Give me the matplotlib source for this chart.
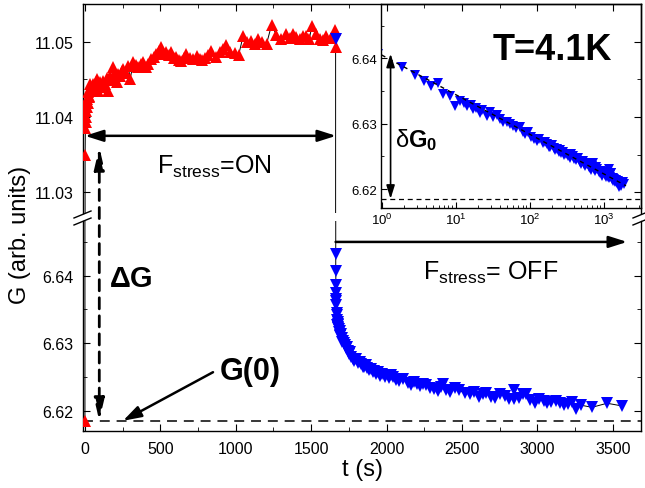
import numpy as np
import matplotlib
matplotlib.use("Agg")
import matplotlib.pyplot as plt
from matplotlib.ticker import MultipleLocator, FormatStrFormatter, LogLocator, NullFormatter
from matplotlib.lines import Line2D

plt.rcParams['font.family'] = ['Liberation Sans', 'DejaVu Sans']
plt.rcParams['mathtext.fontset'] = 'custom'
plt.rcParams['mathtext.rm'] = 'Liberation Sans'
plt.rcParams['mathtext.it'] = 'Liberation Sans:italic'
plt.rcParams['mathtext.bf'] = 'Liberation Sans:bold'
plt.rcParams['axes.linewidth'] = 1.0

# stress ON: G(t), first point is G(0) before the stress
t_on = [0, 1, 3, 5, 7, 9, 11, 13, 15, 18, 22, 25, 28, 33, 38, 44, 50, 55, 60, 66, 72, 77,
        83, 88, 99, 110, 121, 132, 143, 154, 165, 176, 187, 199, 210, 221, 232, 243, 254,
        270, 287, 300, 320, 336, 353, 370, 386, 403, 420, 441, 458, 474, 490, 507, 523,
        540, 556, 573, 590, 606, 623, 639, 656, 672, 695, 717, 740, 761, 778, 794, 817,
        839, 866, 894, 916, 938, 965, 993, 1020, 1049, 1076, 1104, 1126, 1148, 1175, 1204,
        1237, 1270, 1303, 1336, 1358, 1380, 1402, 1424, 1446, 1468, 1487, 1505, 1530, 1556,
        1578, 1600, 1630, 1655, 1666]
g_on = [6.6185, 11.0349, 11.0386, 11.0393, 11.0400, 11.0408, 11.0413, 11.0420, 11.0424,
        11.0418, 11.0433, 11.0426, 11.0428, 11.0444, 11.0436, 11.0437, 11.0441, 11.0444,
        11.0438, 11.0441, 11.0447, 11.0450, 11.0442, 11.0435, 11.0446, 11.0440, 11.0448,
        11.0444, 11.0452, 11.0435, 11.0455, 11.0449, 11.0466, 11.0458, 11.0446, 11.0457,
        11.0455, 11.0461, 11.0464, 11.0459, 11.0468, 11.0450, 11.0473, 11.0469, 11.0466,
        11.0471, 11.0473, 11.0466, 11.0470, 11.0477, 11.0480, 11.0484, 11.0488, 11.0493,
        11.0484, 11.0486, 11.0482, 11.0487, 11.0478, 11.0480, 11.0476, 11.0475, 11.0478,
        11.0484, 11.0479, 11.0477, 11.0481, 11.0477, 11.0476, 11.0478, 11.0483, 11.0488,
        11.0480, 11.0486, 11.0490, 11.0495, 11.0487, 11.0485, 11.0483, 11.0508, 11.0500,
        11.0501, 11.0497, 11.0504, 11.0500, 11.0497, 11.0522, 11.0509, 11.0504, 11.0510,
        11.0505, 11.0510, 11.0506, 11.0504, 11.0508, 11.0507, 11.0503, 11.0521, 11.0510,
        11.0504, 11.0502, 11.0508, 11.0505, 11.0515, 11.0493]

# stress OFF: time after switching off, and G
t_switch = 1662
t_off = [0, 0.4, 0.9, 1.9, 2.8, 3.7, 4.7, 5.8, 6.8, 8.4, 9.8, 11.4, 13, 14.1, 16, 17.3, 19,
         21.3, 23, 26.2, 29, 32.2, 36, 39.8, 44, 49, 54, 60, 66, 73, 80, 86, 95, 105, 115,
         124, 135, 150, 160, 170, 180, 190, 200, 210, 222, 235, 246, 257, 268, 280, 295,
         310, 330, 351, 365, 380, 400, 420, 450, 478, 500, 520, 540, 560, 580, 600, 625,
         653, 680, 700, 710, 735, 760, 790, 820, 855, 891, 920, 950, 975, 1000, 1030, 1060,
         1090, 1120, 1150, 1180, 1185, 1217, 1240, 1260, 1290, 1320, 1350, 1380, 1405, 1430,
         1460, 1490, 1515, 1540, 1565, 1593, 1630, 1700, 1800, 1900]
g_off = [11.0504, 6.6432, 6.6407, 6.6386, 6.6374, 6.6366, 6.6357, 6.6362, 6.6345, 6.6342,
         6.6327, 6.6335, 6.6331, 6.6327, 6.6328, 6.6322, 6.6324, 6.6316, 6.6321, 6.6312,
         6.6318, 6.6310, 6.6313, 6.6307, 6.6302, 6.6303, 6.6300, 6.6297, 6.6293, 6.6295,
         6.6288, 6.6284, 6.6287, 6.6280, 6.6277, 6.6274, 6.6276, 6.6270, 6.6272, 6.6269,
         6.6264, 6.6265, 6.6268, 6.6263, 6.6260, 6.6262, 6.6257, 6.6259, 6.6255, 6.6257,
         6.6252, 6.6254, 6.6250, 6.6248, 6.6253, 6.6250, 6.6246, 6.6244, 6.6247, 6.6241,
         6.6238, 6.6243, 6.6239, 6.6236, 6.6240, 6.6238, 6.6234, 6.6232, 6.6229, 6.6235,
         6.6240, 6.6231, 6.6228, 6.6233, 6.6230, 6.6226, 6.6225, 6.6228, 6.6220, 6.6224,
         6.6226, 6.6221, 6.6219, 6.6225, 6.6222, 6.6218, 6.6217, 6.6230, 6.6219, 6.6225,
         6.6224, 6.6216, 6.6212, 6.6217, 6.6215, 6.6211, 6.6213, 6.6214, 6.6212, 6.6209,
         6.6210, 6.6213, 6.6203, 6.6208, 6.6205, 6.6211, 6.6207]

# logarithmic fit shown in the inset
fit_t = [1, 2000]
fit_g = [6.6405, 6.6205]
g_zero = 6.6185

W, H = 645, 489
def fx(px):
    return px / W
def fy(py):
    return 1 - py / H

fig = plt.figure(figsize=(6.45, 4.89), dpi=100)
ax_up = fig.add_axes([fx(83), fy(214), fx(641) - fx(83), fy(5) - fy(214)])
ax_lo = fig.add_axes([fx(83), fy(432), fx(641) - fx(83), fy(222) - fy(432)], sharex=ax_up)

t_all = np.concatenate([t_on, np.array(t_off) + t_switch])
g_all = np.concatenate([g_on, g_off])
for ax in (ax_up, ax_lo):
    ax.plot(t_all, g_all, color='k', lw=0.7, zorder=2)
    ax.plot(t_on, g_on, ls='none', marker='^', color='#ff0000', ms=8, mew=0, zorder=3)
    ax.plot(np.array(t_off) + t_switch, g_off, ls='none', marker='v', color='#0000ff',
            ms=8, mew=0, zorder=4)
    ax.xaxis.set_major_locator(MultipleLocator(500))
    ax.xaxis.set_minor_locator(MultipleLocator(250))
    ax.yaxis.set_major_locator(MultipleLocator(0.01))
    ax.yaxis.set_minor_locator(MultipleLocator(0.005))
    ax.yaxis.set_major_formatter(FormatStrFormatter('%.2f'))
    ax.tick_params(which='both', direction='in', right=True, labelsize=11.5, pad=7)
    ax.tick_params(which='major', length=5)
    ax.tick_params(which='minor', length=3)

ax_up.set_xlim(-13, 3687)
ax_up.set_ylim(11.02725, 11.05501)
ax_lo.set_ylim(6.61699, 6.64810)
ax_up.spines['bottom'].set_visible(False)
ax_lo.spines['top'].set_visible(False)
ax_up.tick_params(which='both', top=True, bottom=False, labelbottom=False)
ax_lo.tick_params(which='both', top=False, bottom=True)

ax_lo.axhline(g_zero, color='k', lw=1.1, dashes=(6.5, 4.5), zorder=1)

# arrows in the main panel
ax_up.annotate('', xy=(0, 11.0375), xytext=(1665, 11.0375),
               arrowprops=dict(arrowstyle='<|-|>,head_length=1.1,head_width=0.35',
                               color='k', lw=1.8, shrinkA=0, shrinkB=0))
ax_lo.annotate('', xy=(3595, 6.6450), xytext=(1662, 6.6450),
               arrowprops=dict(arrowstyle='-|>,head_length=1.1,head_width=0.35',
                               color='k', lw=1.8, shrinkA=0, shrinkB=0))
ax_lo.annotate('', xy=(95, g_zero), xytext=(95, 11.036), textcoords=ax_up.transData,
               arrowprops=dict(arrowstyle='<|-|>,head_length=1.3,head_width=0.3',
                               color='k', lw=2, linestyle=(0, (4, 2.5)),
                               shrinkA=0, shrinkB=0),
               annotation_clip=False)
ax_lo.annotate('', xy=(252, g_zero), xytext=(849, 6.6257),
               arrowprops=dict(arrowstyle='-|>,head_length=1.1,head_width=0.35',
                               color='k', lw=1.8, shrinkA=0, shrinkB=0))

fig.text(fx(157), fy(174), r'F$_{\rm stress}$=ON', fontsize=18, va='baseline')
fig.text(fx(423), fy(280), r'F$_{\rm stress}$= OFF', fontsize=18, va='baseline')
fig.text(fx(493), fy(60), 'T=4.1K', fontsize=26, fontweight='bold', va='baseline')
fig.text(fx(110), fy(287), 'ΔG', fontsize=21, fontweight='bold', va='baseline')
fig.text(fx(220), fy(380), 'G(0)', fontsize=22, fontweight='bold', va='baseline')
fig.text(fx(20), fy(235), 'G (arb. units)', fontsize=17, rotation=90, ha='center', va='center')
fig.text(fx(362), fy(470), 't (s)', fontsize=17, ha='center', va='center')

# axis break marks
for dy in (0, 7):
    for x0 in (74, 633):
        fig.add_artist(Line2D([fx(x0), fx(x0 + 17)], [fy(219 + dy), fy(212 + dy)],
                              color='k', lw=1, transform=fig.transFigure))

# inset
ax_in = fig.add_axes([fx(381), fy(209), fx(641) - fx(381), fy(5) - fy(209)])
ax_in.set_facecolor('none')
ax_in.set_xscale('log')
ax_in.plot(fit_t, fit_g, color='k', lw=1, dashes=(3, 3), zorder=3)
ax_in.plot(t_off, g_off, ls='none', marker='v', color='#0000ff', ms=7, mew=0, zorder=2)
ax_in.axhline(g_zero, color='k', lw=0.9, dashes=(4, 3))
ax_in.set_xlim(0.98, 3190)
ax_in.set_ylim(6.6171, 6.6483)
ax_in.xaxis.set_major_locator(LogLocator(base=10))
ax_in.xaxis.set_minor_locator(LogLocator(base=10, subs=np.arange(2, 10)))
ax_in.xaxis.set_minor_formatter(NullFormatter())
ax_in.yaxis.set_major_locator(MultipleLocator(0.01))
ax_in.yaxis.set_minor_locator(MultipleLocator(0.005))
ax_in.yaxis.set_major_formatter(FormatStrFormatter('%.2f'))
ax_in.tick_params(which='both', direction='in', top=False, right=False, labelsize=9.5, pad=3)
ax_in.tick_params(which='major', length=4)
ax_in.tick_params(which='minor', length=2)
ax_in.annotate('', xy=(1.32, 6.6407), xytext=(1.32, 6.6185),
               arrowprops=dict(arrowstyle='<|-|>,head_length=0.8,head_width=0.25',
                               color='k', lw=1.2, shrinkA=0, shrinkB=0))
fig.text(fx(395), fy(147), r'δ$\mathbf{G_0}$', fontsize=17, va='baseline')

fig.savefig('out.png', dpi=100)
